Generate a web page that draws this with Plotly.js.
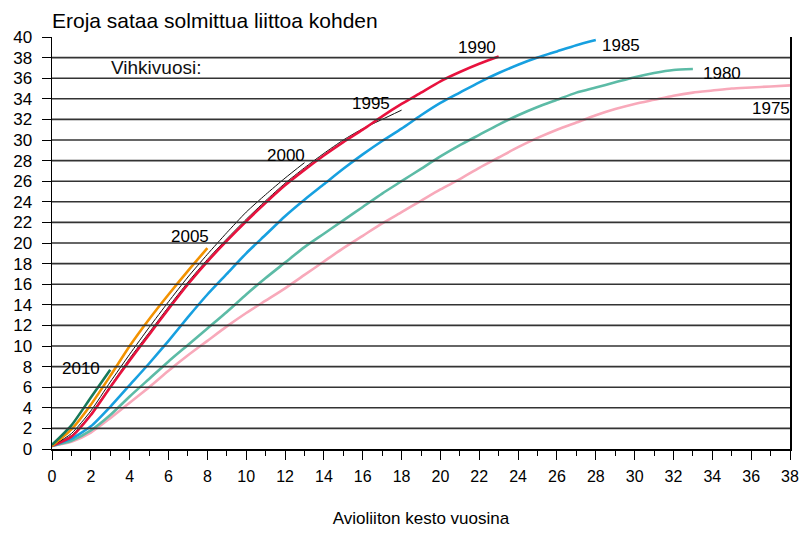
<!DOCTYPE html>
<html>
<head>
<meta charset="utf-8">
<script src="https://cdn.plot.ly/plotly-3.0.1.min.js"></script>
<style>html,body{margin:0;padding:0;background:#fff;}#chart{width:806px;height:534px;}</style>
</head>
<body>
<div id="chart"></div>
<script>
// Duration of marriage (years)
const years = [0,1,2,3,4,5,6,7,8,9,10,11,12,13,14,15,16,17,18,19,20,21,22,23,24,25,26,27,28,29,30,31,32,33,34,35,36,37,38];

// Divorces per 100 marriages, by wedding year
const y1975 = [0.3,0.7,1.6,3.0,4.5,6.0,7.6,9.1,10.5,11.9,13.2,14.4,15.6,16.9,18.2,19.5,20.7,21.9,23.0,24.1,25.2,26.2,27.3,28.3,29.3,30.2,31.0,31.7,32.4,33.0,33.5,33.9,34.3,34.6,34.8,35.0,35.1,35.2,35.3];
const y1980 = [0.3,0.8,1.8,3.3,5.1,6.8,8.5,10.1,11.7,13.3,15.0,16.6,18.1,19.6,20.9,22.2,23.5,24.8,26.0,27.2,28.4,29.5,30.5,31.5,32.4,33.2,33.9,34.6,35.1,35.6,36.1,36.5,36.8,36.9];
const y1985 = [0.3,1.0,2.2,4.1,6.2,8.3,10.5,12.8,15.0,17.0,19.0,20.8,22.6,24.2,25.7,27.2,28.6,29.9,31.1,32.4,33.6,34.6,35.6,36.5,37.3,38.0,38.6,39.2,39.7];
const y1990 = [0.3,1.2,3.3,6.0,8.6,11.1,13.6,16.0,18.2,20.2,22.1,23.9,25.6,27.1,28.5,29.8,31.0,32.3,33.5,34.6,35.7,36.6,37.4,38.1];
const y1995 = [0.3,1.3,3.4,6.1,8.8,11.3,13.8,16.2,18.4,20.4,22.3,24.1,25.8,27.3,28.7,30.0,31.1,32.0,32.9];
const y2000 = [0.3,1.5,3.7,6.5,9.2,11.8,14.3,16.7,18.9,21.0,23.0,24.7,26.3,27.8];
const y2005 = [0.3,1.9,4.3,7.1,10.0,12.6,15.0,17.3,19.5];
const y2010 = [0.4,2.3,5.0,7.7];

const seriesNames = ['1975','1980','1985','1990','1995','2000','2005','2010'];
const seriesValues = [y1975,y1980,y1985,y1990,y1995,y2000,y2005,y2010];

// Labels placed next to the curves
const labelText = ['Vihkivuosi:','1990','1985','1980','1975','1995','2000','2005','2010'];
const labelX    = [2.95,21.9,29.3,34.5,37.0,16.4,12.05,7.1,1.5];
const labelY    = [37.0,39.0,39.2,36.5,33.1,33.5,28.5,20.6,7.8];

const xTicks = [0,2,4,6,8,10,12,14,16,18,20,22,24,26,28,30,32,34,36,38];
const yTicks = [0,2,4,6,8,10,12,14,16,18,20,22,24,26,28,30,32,34,36,38,40];

const styles = {
  '1975': {color:'#f8a9ba', width:2.6},
  '1980': {color:'#5cbba6', width:2.6},
  '1985': {color:'#17a0e0', width:2.6},
  '1990': {color:'#e8123e', width:2.6},
  '1995': {color:'#111111', width:1},
  '2000': {color:'#111111', width:1},
  '2005': {color:'#f39200', width:2.6},
  '2010': {color:'#17795a', width:2.6}
};
const drawOrder = ['1975','1980','1985','1995','1990','2000','2005','2010'];

const traces = drawOrder.map(name => {
  const vals = seriesValues[seriesNames.indexOf(name)];
  return {
    x: years.slice(0, vals.length),
    y: vals,
    type: 'scatter',
    mode: 'lines',
    name: name,
    line: {color: styles[name].color, width: styles[name].width, shape: 'spline', smoothing: 0.6},
    hoverinfo: 'skip'
  };
});

const FONT = 'Liberation Sans, Arial, sans-serif';

const annotations = labelText.map((t, i) => ({
  x: labelX[i], y: labelY[i], xref: 'x', yref: 'y',
  text: t, showarrow: false,
  xanchor: i === 0 ? 'left' : 'center', yanchor: 'middle',
  font: {family: FONT, size: i === 0 ? 19 : 17, color: i === 0 ? '#111' : '#000'}
}));

// horizontal gridlines drawn above the curves, as in the original
const gridShapes = yTicks.filter(v => v > 0 && v < 40).map(v => ({
  type: 'line', xref: 'paper', yref: 'y', x0: 0, x1: 1, y0: v, y1: v,
  line: {color: '#333', width: 1.6}, layer: 'above'
}));

const layout = {
  width: 806, height: 534,
  margin: {l: 52, r: 16, t: 37, b: 85},
  paper_bgcolor: '#fff', plot_bgcolor: '#fff',
  showlegend: false,
  font: {family: FONT, color: '#000'},
  title: {
    text: 'Eroja sataa solmittua liittoa kohden',
    x: 0, xref: 'paper', xanchor: 'left',
    y: 1 - 21/534, yref: 'container', yanchor: 'middle',
    font: {family: FONT, size: 21, color: '#000'}
  },
  xaxis: {
    range: [0, 38], tickvals: xTicks, ticktext: xTicks.map(String),
    ticks: 'outside', ticklen: 9, tickwidth: 1, tickcolor: '#000',
    minor: {ticks: 'outside', dtick: 1, tick0: 0, ticklen: 5, tickwidth: 1, tickcolor: '#000', showgrid: false},
    showgrid: false, zeroline: false,
    showline: true, linecolor: '#000', linewidth: 1.5,
    tickfont: {family: FONT, size: 16, color: '#000'},
    ticklabelstandoff: 3,
    title: {text: 'Avioliiton kesto vuosina', font: {family: FONT, size: 17, color: '#000'}, standoff: 28},
    fixedrange: true
  },
  yaxis: {
    range: [0, 40], tickvals: yTicks, ticktext: yTicks.map(String),
    ticks: 'outside', ticklen: 9, tickwidth: 1, tickcolor: '#000',
    showgrid: false,
    zeroline: false,
    showline: true, linecolor: '#000', linewidth: 1.5, mirror: true,
    tickfont: {family: FONT, size: 17, color: '#000'},
    ticklabelstandoff: 6,
    fixedrange: true
  },
  shapes: gridShapes,
  annotations: annotations
};

Plotly.newPlot('chart', traces, layout, {staticPlot: true, displayModeBar: false});
</script>
</body>
</html>
